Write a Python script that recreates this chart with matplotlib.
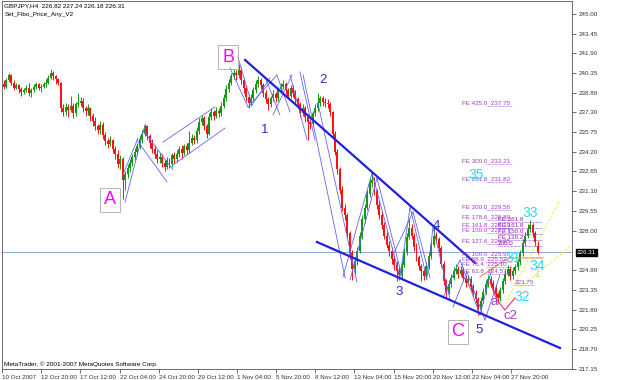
import numpy as np
import matplotlib
matplotlib.use('Agg')
import matplotlib.pyplot as plt
import matplotlib.transforms as mtransforms

# GBPJPY H4 candles
opens = [
    239.5, 239.3, 239.8, 240.2, 239.6, 239.2, 239.4, 239.1, 238.9, 239.0,
    239.2, 238.8, 239.0, 239.3, 239.5, 239.2, 239.3, 239.5, 239.6, 240.0,
    240.4, 240.1, 239.9, 239.6, 237.6, 237.3, 237.7, 237.5, 237.8, 237.2,
    237.9, 238.0, 238.2, 237.6, 237.4, 237.6, 237.0, 236.6, 236.2, 235.9,
    236.3, 235.5, 235.0, 234.8, 235.1, 234.4, 234.0, 233.2, 233.6, 232.0,
    232.4, 232.9, 233.3, 233.8, 234.2, 234.6, 235.2, 235.6, 236.2, 235.4,
    234.9, 234.4, 234.0, 233.6, 233.8, 233.3, 233.0, 233.5, 233.2, 233.9,
    233.6, 234.0, 234.4, 234.1, 234.6, 234.3, 234.9, 235.3, 235.1, 235.8,
    236.5, 236.8, 236.2, 235.6, 236.9, 237.3, 237.0, 237.4, 237.2, 237.8,
    238.4, 239.1, 239.6, 240.1, 240.4, 240.2, 240.6, 239.8, 239.2, 238.5,
    238.0, 238.4, 239.0, 239.5, 239.8, 239.4, 238.8, 238.3, 237.9, 238.4,
    238.7, 238.4, 239.1, 239.3, 239.5, 239.0, 238.6, 239.2, 238.8, 238.3,
    237.9, 237.2, 237.6, 236.9, 236.5, 236.4, 237.2, 237.6, 238.0, 238.4,
    238.1, 238.0, 237.9, 237.3, 235.6, 234.2, 232.8, 231.2, 229.8, 229.2,
    227.8, 226.2, 225.0, 225.6, 226.4, 227.6, 228.9, 229.8, 230.9, 231.7,
    232.0, 231.1, 230.0, 229.2, 228.4, 227.6, 226.9, 226.4, 225.8, 225.3,
    224.8, 224.5, 225.3, 226.3, 227.5, 228.2, 227.6, 226.7, 225.9, 225.2,
    224.8, 224.4, 225.2, 226.0, 226.9, 227.6, 227.3, 226.6, 225.4, 224.0,
    223.2, 223.8, 224.3, 224.8, 225.0, 224.6, 224.9, 224.3, 223.9, 224.2,
    223.6, 223.1, 222.6, 221.8, 222.5, 223.2, 223.8, 224.2, 223.9, 223.5,
    223.0, 222.7, 223.3, 224.0, 224.6, 225.0, 224.4, 224.8, 225.1, 225.5,
    226.2, 227.0, 227.6, 228.1, 228.4, 227.8, 226.82,
]
highs = [
    239.8, 240.0, 240.4, 240.3, 239.8, 239.6, 239.5, 239.3, 239.2, 239.4,
    239.6, 239.2, 239.5, 239.7, 239.6, 239.5, 239.7, 239.9, 240.2, 240.7,
    240.5, 240.2, 240.0, 239.7, 237.9, 238.0, 237.9, 238.6, 238.0, 238.1,
    238.8, 238.5, 238.4, 237.8, 237.9, 237.7, 237.2, 236.9, 236.4, 236.6,
    236.5, 235.7, 235.3, 235.4, 235.2, 234.6, 234.3, 233.9, 233.8, 232.7,
    233.2, 233.6, 234.0, 234.5, 234.9, 235.5, 235.9, 236.4, 236.3, 235.6,
    235.2, 234.7, 234.3, 234.1, 234.0, 233.5, 233.8, 233.7, 234.1, 234.2,
    234.3, 234.6, 234.7, 234.8, 234.9, 235.8, 235.6, 235.5, 236.1, 236.8,
    237.1, 237.0, 236.4, 237.2, 237.6, 237.5, 237.7, 237.6, 238.1, 238.7,
    239.4, 239.9, 240.4, 240.7, 240.6, 241.1, 240.8, 240.0, 239.4, 238.7,
    238.7, 239.3, 239.8, 240.1, 240.0, 239.6, 239.0, 238.5, 238.6, 239.0,
    238.9, 239.3, 239.6, 239.8, 239.7, 239.2, 239.4, 239.4, 239.0, 238.5,
    238.1, 237.9, 237.8, 237.1, 236.8, 237.4, 237.9, 238.8, 238.6, 238.6,
    238.4, 238.3, 238.1, 237.4, 235.8, 234.4, 233.0, 231.5, 230.1, 229.4,
    228.0, 226.5, 225.9, 226.7, 227.9, 229.2, 230.1, 231.2, 232.1, 232.6,
    232.2, 231.3, 230.3, 229.5, 228.7, 227.9, 227.2, 226.7, 226.1, 225.6,
    225.1, 225.6, 226.6, 227.8, 229.0, 228.5, 227.8, 227.0, 226.1, 225.4,
    225.0, 225.5, 226.3, 227.2, 228.3, 227.9, 227.5, 226.8, 225.6, 224.2,
    224.1, 224.6, 225.1, 225.4, 225.2, 225.2, 225.1, 224.5, 224.5, 224.4,
    223.8, 223.3, 222.8, 222.8, 223.5, 224.1, 224.5, 224.4, 224.1, 223.7,
    223.2, 223.6, 224.3, 224.9, 225.3, 225.2, 225.1, 225.4, 225.8, 226.5,
    227.3, 227.9, 228.5, 228.8, 228.6, 228.0, 227.24,
]
lows = [
    239.1, 239.2, 239.7, 239.4, 239.0, 239.1, 238.8, 238.6, 238.7, 238.9,
    238.6, 238.5, 238.9, 239.1, 239.0, 238.9, 239.2, 239.3, 239.5, 239.9,
    239.8, 239.5, 239.4, 237.3, 237.0, 237.1, 236.9, 237.3, 236.8, 237.0,
    237.7, 237.8, 237.3, 237.0, 237.1, 236.6, 236.2, 235.9, 235.6, 235.6,
    235.2, 234.7, 234.5, 234.6, 234.1, 233.6, 232.9, 232.8, 230.5, 231.2,
    232.1, 232.6, 233.1, 233.5, 233.9, 234.4, 234.9, 235.4, 235.1, 234.5,
    234.1, 233.7, 233.3, 233.3, 233.0, 232.7, 232.8, 232.9, 233.0, 233.3,
    233.4, 233.8, 233.6, 233.9, 234.0, 234.1, 234.7, 234.8, 234.9, 235.6,
    236.3, 235.9, 235.3, 235.5, 236.7, 236.7, 236.8, 236.9, 237.0, 237.6,
    238.2, 238.9, 239.4, 239.9, 239.8, 240.0, 239.5, 238.8, 238.2, 237.6,
    237.8, 238.2, 238.8, 239.3, 239.1, 238.5, 238.0, 237.5, 237.7, 238.2,
    238.1, 238.2, 238.9, 239.1, 238.7, 238.3, 238.4, 238.5, 238.0, 237.6,
    236.9, 237.0, 236.5, 235.1, 236.0, 236.2, 237.0, 237.4, 237.8, 237.8,
    237.7, 237.6, 237.0, 235.3, 233.9, 232.4, 230.9, 229.5, 228.8, 227.4,
    225.8, 224.1, 224.6, 225.3, 226.2, 227.3, 228.6, 229.6, 230.6, 231.4,
    230.8, 229.7, 228.9, 228.1, 227.3, 226.6, 226.0, 225.4, 224.9, 224.0,
    224.1, 224.3, 225.1, 226.1, 227.3, 227.3, 226.4, 225.6, 224.9, 224.0,
    224.1, 224.2, 225.0, 225.8, 226.7, 227.0, 226.3, 225.1, 223.7, 222.7,
    223.0, 223.6, 224.1, 224.6, 224.3, 224.4, 224.0, 223.6, 223.7, 223.3,
    222.8, 222.3, 221.4, 221.6, 222.3, 223.0, 223.6, 223.6, 223.2, 222.7,
    222.3, 222.5, 223.1, 223.8, 224.4, 224.1, 224.2, 224.6, 224.9, 225.3,
    226.0, 226.8, 227.4, 227.9, 227.5, 226.8, 226.18,
]
closes = [
    239.3, 239.8, 240.2, 239.6, 239.2, 239.4, 239.1, 238.9, 239.0, 239.2,
    238.8, 239.0, 239.3, 239.5, 239.2, 239.3, 239.5, 239.6, 240.0, 240.4,
    240.1, 239.9, 239.6, 237.6, 237.3, 237.7, 237.5, 237.8, 237.2, 237.9,
    238.0, 238.2, 237.6, 237.4, 237.6, 237.0, 236.6, 236.2, 235.9, 236.3,
    235.5, 235.0, 234.8, 235.1, 234.4, 234.0, 233.2, 233.6, 232.0, 232.4,
    232.9, 233.3, 233.8, 234.2, 234.6, 235.2, 235.6, 236.2, 235.4, 234.9,
    234.4, 234.0, 233.6, 233.8, 233.3, 233.0, 233.5, 233.2, 233.9, 233.6,
    234.0, 234.4, 234.1, 234.6, 234.3, 234.9, 235.3, 235.1, 235.8, 236.5,
    236.8, 236.2, 235.6, 236.9, 237.3, 237.0, 237.4, 237.2, 237.8, 238.4,
    239.1, 239.6, 240.1, 240.4, 240.2, 240.6, 239.8, 239.2, 238.5, 238.0,
    238.4, 239.0, 239.5, 239.8, 239.4, 238.8, 238.3, 237.9, 238.4, 238.7,
    238.4, 239.1, 239.3, 239.5, 239.0, 238.6, 239.2, 238.8, 238.3, 237.9,
    237.2, 237.6, 236.9, 236.5, 236.4, 237.2, 237.6, 238.0, 238.4, 238.1,
    238.0, 237.9, 237.3, 235.6, 234.2, 232.8, 231.2, 229.8, 229.2, 227.8,
    226.2, 225.0, 225.6, 226.4, 227.6, 228.9, 229.8, 230.9, 231.7, 232.0,
    231.1, 230.0, 229.2, 228.4, 227.6, 226.9, 226.4, 225.8, 225.3, 224.8,
    224.5, 225.3, 226.3, 227.5, 228.2, 227.6, 226.7, 225.9, 225.2, 224.8,
    224.4, 225.2, 226.0, 226.9, 227.6, 227.3, 226.6, 225.4, 224.0, 223.2,
    223.8, 224.3, 224.8, 225.0, 224.6, 224.9, 224.3, 223.9, 224.2, 223.6,
    223.1, 222.6, 221.8, 222.5, 223.2, 223.8, 224.2, 223.9, 223.5, 223.0,
    222.7, 223.3, 224.0, 224.6, 225.0, 224.4, 224.8, 225.1, 225.5, 226.2,
    227.0, 227.6, 228.1, 228.4, 227.8, 227.1, 226.31,
]

date_labels = ["10 Oct 2007", "12 Oct 20:00", "17 Oct 12:00", "22 Oct 04:00",
               "24 Oct 20:00", "29 Oct 12:00", "1 Nov 04:00", "5 Nov 20:00",
               "8 Nov 12:00", "13 Nov 04:00", "15 Nov 20:00", "20 Nov 12:00",
               "23 Nov 04:00", "27 Nov 20:00"]
date_bars = [-0.8, 15.0, 30.9, 46.8, 62.6, 78.5, 94.3, 110.1, 126.0, 141.8,
             157.7, 173.5, 189.4, 205.2]
price_ticks = [245.00, 243.45, 241.90, 240.35, 238.80, 237.30, 235.75, 234.20,
               232.65, 231.10, 229.55, 228.00, 224.90, 223.35, 221.80, 220.25,
               218.70, 217.15]

# trend channel (bar, price)
upper_line = [(97.6, 241.39), (190.7, 225.46)]
lower_line = [(126.7, 227.10), (225.1, 218.78)]

# thin zigzag / channel segments (bar0, price0, bar1, price1)
zig_segments = [
    (49.0, 230.24, 57.1, 236.29), (47.8, 232.21, 54.3, 235.27),
    (56.3, 235.89, 68.4, 232.76), (53.8, 235.11, 66.0, 231.81),
    (64.4, 234.95, 85.4, 237.70), (68.4, 233.15, 89.5, 236.05),
    (91.5, 240.76, 98.8, 237.70), (94.7, 241.62, 100.4, 237.86),
    (98.8, 237.70, 110.5, 240.21), (100.4, 237.86, 107.7, 239.98),
    (105.7, 240.05, 111.7, 237.07), (110.5, 240.21, 115.8, 237.31),
    (108.9, 237.07, 116.6, 240.21), (115.8, 240.21, 122.7, 235.11),
    (119.8, 240.45, 125.9, 235.11), (121.1, 240.21, 138.1, 224.28),
    (127.1, 238.01, 142.9, 223.96), (137.2, 224.36, 149.0, 232.52),
    (140.1, 224.12, 151.0, 232.13), (149.0, 232.52, 160.3, 224.36),
    (151.0, 232.13, 161.5, 224.12), (160.3, 224.36, 164.4, 229.85),
    (157.5, 226.08, 165.6, 229.46), (164.4, 229.85, 171.3, 224.12),
    (165.6, 229.46, 172.5, 224.28), (171.3, 224.36, 173.7, 228.28),
    (173.7, 228.28, 180.6, 222.55), (177.7, 222.71, 184.6, 225.69),
    (184.6, 225.69, 192.7, 221.37), (181.8, 222.00, 187.4, 224.75),
    (187.4, 224.75, 194.7, 220.98), (192.7, 221.37, 197.6, 225.06),
    (194.7, 220.98, 200.8, 224.51),
]
orange_bars = [192.7, 198.0, 201.6, 204.9, 218.2]
orange_prices = [224.36, 225.06, 225.53, 225.85, 225.85]
red_bars = [196.8, 199.6, 202.8, 206.9]
red_prices = [223.89, 222.55, 221.77, 222.71]
yellow_segments = [(203.6, 222.55, 225.1, 230.40), (208.9, 223.57, 229.1, 226.71)]

# Fibo expansion levels
fe_ratios = ['425.0', '300.0', '261.8', '200.0', '178.6', '161.8', '150.0',
             '127.6', '100.0', '88.0', '76.4', '61.8']
fe_prices = [237.75, 233.21, 231.82, 229.58, 228.80, 228.19, 227.77, 226.95,
             225.95, 225.52, 225.10, 224.57]
fe2_labels = ['FE 261.8', 'FE 161.8', 'FE 150.0', 'FE 138.2', '200.0']
fe2_prices = [228.67, 228.20, 227.73, 227.26, 226.80]

# wave labels
abc_text = ['A', 'B', 'C']
abc_pos = [(42.9, 230.40), (90.7, 241.62), (183.8, 220.04)]
wave_text = ['1', '2', '3', '4', '5']
wave_pos = [(105.7, 235.89), (129.1, 239.82), (159.9, 223.18), (174.9, 228.36),
            (192.3, 220.20)]
cyan_text = ['35', '33', '32', '31', '34']
cyan_pos = [(191.1, 232.36), (212.9, 229.38), (209.7, 222.79), (206.1, 225.85),
            (215.8, 225.22)]
sub_text = ['a', 'c2']
sub_pos = [(198.4, 222.39), (204.9, 221.30)]

plt.rcParams['font.family'] = ['Liberation Sans', 'DejaVu Sans']
fig = plt.figure(figsize=(6.25, 3.8), dpi=100)
ax = fig.add_axes([2 / 625, 11 / 380, 570 / 625, 368 / 380])
ax.set_xlim(-0.81, 229.96)
ax.set_ylim(217.13, 246.02)

# current price line
ax.axhline(closes[-1], color='#8FA6D6', lw=0.7, zorder=1)

# candles
idx = np.arange(len(closes))
o = np.array(opens)
c = np.array(closes)
cols = np.where(c >= o, '#109A10', '#FF1010')
ax.vlines(idx, lows, highs, colors=cols, lw=0.7, zorder=2)
body = np.maximum(np.abs(c - o), 0.06)
ax.bar(idx, body, bottom=np.minimum(o, c), width=0.8, color=cols, lw=0, zorder=2)

# zigzags
for x0, y0, x1, y1 in zig_segments:
    ax.plot([x0, x1], [y0, y1], color='#6464F0', lw=0.6, zorder=3)
ax.plot(*zip(*upper_line), color='#2020DC', lw=1.6, zorder=4)
ax.plot(*zip(*lower_line), color='#2020DC', lw=1.6, zorder=4)
ax.plot(orange_bars, orange_prices, color='#FF8050', lw=0.8, zorder=4)
ax.plot(red_bars, red_prices, color='#FF2A60', lw=0.8, zorder=4)
for x0, y0, x1, y1 in yellow_segments:
    ax.plot([x0, x1], [y0, y1], color='#F2F040', lw=0.8, ls=(0, (2, 1.5)), zorder=4)

# FE texts
for r, p in zip(fe_ratios, fe_prices):
    ax.text(185.4, p, 'FE %s  %.2f' % (r, p), color='#A03CD0', fontsize=4.5,
            va='bottom', ha='left', zorder=5)
    ax.hlines(p, 195.1, 205.7, color='#A03CD0', lw=0.5, ls=(0, (1, 1)), zorder=5)
for t, p in zip(fe2_labels, fe2_prices):
    ax.text(200.0, p, t, color='#8A22B0', fontsize=4.5, va='bottom', ha='left', zorder=5)
    ax.hlines(p, 200.0, 218.0, color='#8A22B0', lw=0.5, ls=(0, (1, 1)), zorder=5)
ax.text(206.9, 223.75, '223.75', color='#A03CD0', fontsize=4.5, va='bottom', zorder=5)
ax.hlines(223.75, 206.9, 214.5, color='#A03CD0', lw=0.5, ls=(0, (1, 1)), zorder=5)

# wave labels
for t, (x, y) in zip(abc_text, abc_pos):
    ax.text(x, y, t, color='#FF00FF', fontsize=13, ha='center', va='center', zorder=6,
            bbox=dict(boxstyle='square,pad=0.2', fc='none', ec='#A8A8A8', lw=0.6))
for t, (x, y) in zip(wave_text, wave_pos):
    ax.text(x, y, t, color='#2E2ECC', fontsize=9.5, ha='center', va='center', zorder=6)
for t, (x, y) in zip(cyan_text, cyan_pos):
    ax.text(x, y, t, color='#22DDFF', fontsize=10, ha='center', va='center', zorder=6)
for t, (x, y) in zip(sub_text, sub_pos):
    ax.text(x, y, t, color='#A040C8', fontsize=9.5, ha='center', va='center', zorder=6)
ax.text(215.8, 224.59, '1', color='#A8F0A0', fontsize=9, ha='center', va='center', zorder=6)

# header / footer
ax.text(0.004, 0.993, 'GBPJPY,H4  %.2f %.2f %.2f %.2f' % (opens[-1], highs[-1], lows[-1], closes[-1]),
        transform=ax.transAxes, fontsize=4.6, va='top', ha='left')
ax.text(0.004, 0.971, 'Set_Fibo_Price_Any_V2', transform=ax.transAxes, fontsize=4.6,
        va='top', ha='left')
ax.text(0.004, 0.006, 'MetaTrader, \u00a9 2001-2007 MetaQuotes Software Corp.',
        transform=ax.transAxes, fontsize=4.6, va='bottom', ha='left')

# axes styling
ax.yaxis.tick_right()
ax.set_yticks(price_ticks)
ax.set_yticklabels(['%.2f' % v for v in price_ticks])
ax.set_xticks(date_bars)
ax.set_xticklabels(date_labels)
for lbl in ax.get_xticklabels():
    lbl.set_ha('left')
ax.tick_params(axis='both', labelsize=4.5, length=3, width=0.5, direction='out', pad=1.5,
               colors='#333333')
for s in ax.spines.values():
    s.set_linewidth(0.6)
    s.set_color('#555555')

trans = mtransforms.blended_transform_factory(ax.transAxes, ax.transData)
ax.text(1.008, closes[-1], '%.2f' % closes[-1], transform=trans, color='white',
        fontsize=4.5, va='center', ha='left', clip_on=False,
        bbox=dict(boxstyle='square,pad=0.15', fc='black', ec='black'))

fig.savefig('out.png', dpi=100)
